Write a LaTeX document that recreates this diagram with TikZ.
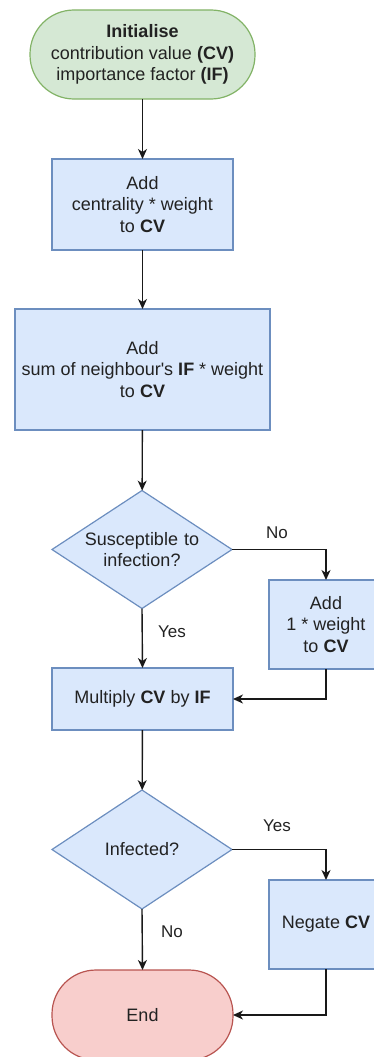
\documentclass[tikz,border=0pt]{standalone}
\usepackage{fontspec}
\setmainfont{Liberation Sans}
\usetikzlibrary{shapes.geometric,arrows.meta}

\definecolor{startfill}{HTML}{D5E8D4}
\definecolor{startline}{HTML}{82B366}
\definecolor{stepfill}{HTML}{DAE8FC}
\definecolor{stepline}{HTML}{6C8EBF}
\definecolor{endfill}{HTML}{F8CECC}
\definecolor{endline}{HTML}{B85450}
\definecolor{inktext}{HTML}{222222}

\tikzset{
  base/.style={inner sep=0pt, outer sep=0pt, align=center, text=inktext,
    font=\fontsize{18}{21.7}\selectfont, line width=1.2pt},
  terminal/.style={base, rectangle, rounded corners=44pt},
  startbox/.style={terminal, draw=startline, fill=startfill},
  endbox/.style={terminal, draw=endline, fill=endfill},
  stepbox/.style={base, rectangle, draw=stepline, fill=stepfill},
  decision/.style={base, diamond, aspect=1.52, draw=stepline, fill=stepfill},
  flow/.style={line width=1.4pt, draw=black!90,
    -{Stealth[length=10pt,width=9pt,inset=3pt]}},
  branch/.style={font=\fontsize{17}{20}\selectfont, text=inktext, inner sep=0pt}
}

\begin{document}
\begin{tikzpicture}[x=1pt, y=-1pt]
\useasboundingbox (0,0) rectangle (374,1057);
\clip (0,0) rectangle (374,1057);

% process nodes
\node[startbox, minimum width=225pt, minimum height=89pt] (init) at (142.5,54.5)
  {\textbf{Initialise}\\contribution value \textbf{(CV)}\\importance factor \textbf{(IF)}};
\node[stepbox, minimum width=181pt, minimum height=91pt] (cent) at (142.5,204.5)
  {Add\\centrality * weight\\to \textbf{CV}};
\node[stepbox, minimum width=255pt, minimum height=121pt] (neigh) at (142.5,369.5)
  {Add\\sum of neighbour\textquotesingle s \textbf{IF} * weight\\to \textbf{CV}};
\node[decision, minimum width=180pt, minimum height=118pt] (susc) at (142,549.5) {};
\node[base, text width=170pt] at (142,549.5) {Susceptible to\\infection?};
\node[stepbox, minimum width=114pt, minimum height=89pt] (one) at (326,624.5)
  {Add\\1 * weight\\to \textbf{CV}};
\node[stepbox, minimum width=181pt, minimum height=62pt] (mult) at (142.5,699)
  {Multiply \textbf{CV} by \textbf{IF}};
\node[decision, minimum width=180pt, minimum height=119pt] (inf) at (142,849.5) {};
\node[base] at (142,849.5) {Infected?};
\node[stepbox, minimum width=114pt, minimum height=89pt] (neg) at (326,924.5)
  {Negate \textbf{CV}};
\node[endbox, minimum width=181pt, minimum height=90pt] (stop) at (142.5,1015) {End};

% connectors
\draw[flow] (init) -- (cent);
\draw[flow] (cent) -- (neigh);
\draw[flow] (neigh) -- (susc);
\draw[flow] (susc.south) -- (mult.north);
\draw[flow] (susc.east) -| (one.north);
\draw[flow] (one.south) |- (mult.east);
\draw[flow] (mult) -- (inf);
\draw[flow] (inf.south) -- (stop.north);
\draw[flow] (inf.east) -| (neg.north);
\draw[flow] (neg.south) |- (stop.east);

% branch labels
\node[branch] (lno1) at (277,533) {No};
\node[branch] (lyes1) at (172,632) {Yes};
\node[branch] (lyes2) at (277,826) {Yes};
\node[branch] (lno2) at (172,932) {No};
\end{tikzpicture}
\end{document}
